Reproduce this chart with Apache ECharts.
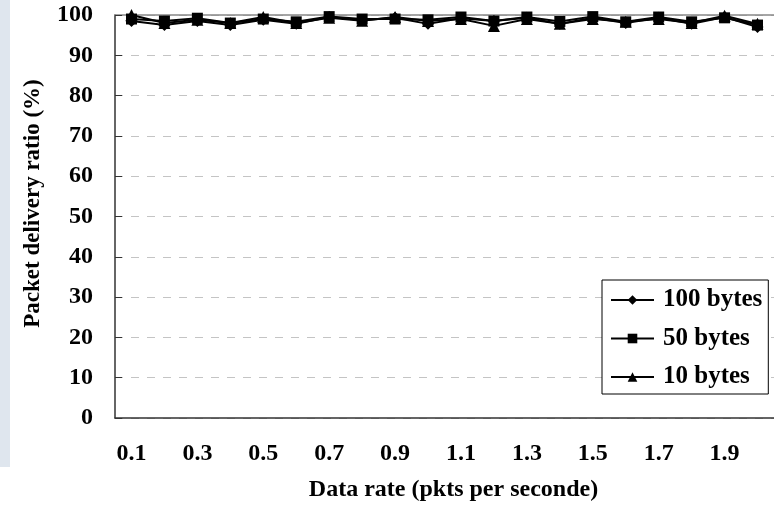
<!DOCTYPE html>
<html>
<head>
<meta charset="utf-8">
<script src="https://cdn.jsdelivr.net/npm/echarts@6/dist/echarts.min.js"></script>
<style>
  html, body { margin: 0; padding: 0; background: #fff; }
  .strip { position: absolute; left: 0; top: 0; width: 10px; height: 467px; background: #dfe6ee; }
  #chart { position: absolute; left: 0; top: 0; width: 774px; height: 510px; }
</style>
</head>
<body>
<div class="strip"></div>
<div id="chart"></div>
<script>
// x categories (pkts per second)
const rates = ["0.1", "0.2", "0.3", "0.4", "0.5", "0.6", "0.7", "0.8", "0.9", "1.0",
  "1.1", "1.2", "1.3", "1.4", "1.5", "1.6", "1.7", "1.8", "1.9", "2.0"];
// packet delivery ratio (%)
const bytes100 = [98.5, 97.5, 98.5, 97.5, 98.8, 97.8, 99.5, 98.7, 99.3, 97.8,
  99.2, 98.5, 99.3, 97.8, 99.3, 98.0, 99.3, 97.8, 99.5, 97.0];
const bytes50 = [99.0, 98.5, 99.2, 98.0, 99.0, 98.3, 99.6, 99.0, 99.0, 98.8,
  99.5, 98.5, 99.5, 98.4, 99.6, 98.3, 99.5, 98.3, 99.3, 97.5];
const bytes10 = [100.0, 98.0, 98.8, 98.0, 99.5, 98.0, 99.3, 98.6, 99.5, 98.5,
  99.0, 97.3, 99.0, 97.8, 99.0, 98.3, 99.0, 98.0, 99.8, 97.8];

const serif = "Liberation Serif";
const chart = echarts.init(document.getElementById("chart"));

function makeSeries(name, data, symbol, size) {
  return {
    name: name,
    type: "line",
    data: data,
    symbol: symbol,
    symbolSize: size,
    showAllSymbol: true,
    lineStyle: { color: "#000", width: 2 },
    itemStyle: { color: "#000" },
  };
}

chart.setOption({
  animation: false,
  grid: { left: 115, right: -1, top: 15, bottom: 92 },
  legend: {
    orient: "vertical",
    left: 602,
    top: 280,
    padding: [7, 6, 4, 8],
    itemGap: 12.5,
    itemWidth: 43,
    itemHeight: 12,
    borderColor: "#000",
    borderWidth: 1,
    backgroundColor: "#fff",
    textStyle: { fontFamily: serif, fontWeight: "bold", fontSize: 25, lineHeight: 26, color: "#000", padding: [0, 0, 0, 4] },
    data: ["100 bytes", "50 bytes", "10 bytes"],
  },
  xAxis: [
    {
      type: "category",
      data: rates,
      boundaryGap: true,
      name: "Data rate (pkts per seconde)",
      nameLocation: "middle",
      nameGap: 60,
      nameTextStyle: { fontFamily: serif, fontWeight: "bold", fontSize: 24, color: "#000", padding: [0, 0, 0, 18] },
      axisLine: { lineStyle: { color: "#333", width: 1.5 } },
      axisTick: { inside: true, length: 6, interval: 0, lineStyle: { color: "#333" } },
      axisLabel: { interval: 1, margin: 24, fontFamily: serif, fontWeight: "bold", fontSize: 24, color: "#000" },
      splitLine: { show: false },
    },
    {
      type: "category",
      data: rates,
      position: "top",
      axisLine: { lineStyle: { color: "#888", width: 1.5 } },
      axisTick: { show: false },
      axisLabel: { show: false },
    },
  ],
  yAxis: {
    type: "value",
    min: 0,
    max: 100,
    interval: 10,
    name: "Packet delivery ratio (%)",
    nameLocation: "middle",
    nameGap: 70,
    nameTextStyle: { fontFamily: serif, fontWeight: "bold", fontSize: 23, color: "#000", padding: [0, 0, 0, 26] },
    axisLine: { show: true, lineStyle: { color: "#333", width: 1.5 } },
    axisTick: { show: true, inside: true, length: 7, lineStyle: { color: "#333" } },
    axisLabel: { margin: 22, fontFamily: serif, fontWeight: "bold", fontSize: 24, color: "#000" },
    splitLine: { lineStyle: { color: "#c4c4c4", type: [8, 8] } },
  },
  series: [
    makeSeries("100 bytes", bytes100, "diamond", 12),
    makeSeries("50 bytes", bytes50, "rect", 11),
    makeSeries("10 bytes", bytes10, "triangle", 12),
  ],
});
</script>
</body>
</html>
